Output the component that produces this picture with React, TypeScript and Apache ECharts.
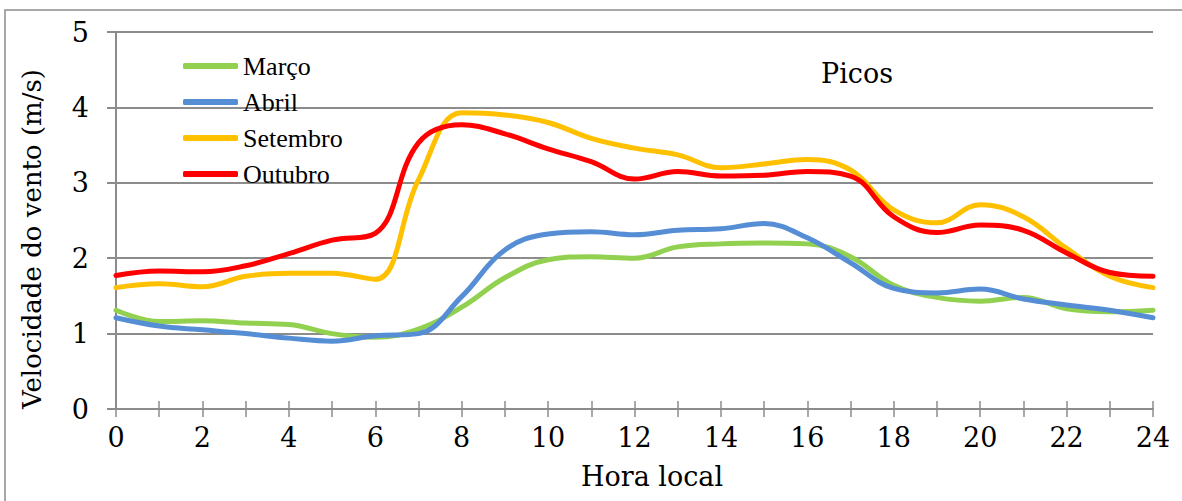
import React, { useEffect, useRef } from "react";
import * as echarts from "echarts";

const hours = [0, 1, 2, 3, 4, 5, 6, 7, 8, 9, 10, 11, 12, 13, 14, 15, 16, 17, 18, 19, 20, 21, 22, 23, 24];
const marco = [1.31, 1.16, 1.17, 1.14, 1.12, 1.0, 0.95, 1.06, 1.35, 1.74, 1.98, 2.02, 2.0, 2.15, 2.19, 2.2, 2.19, 2.02, 1.64, 1.48, 1.43, 1.48, 1.33, 1.29, 1.31];
const abril = [1.21, 1.1, 1.05, 1.0, 0.94, 0.9, 0.97, 1.0, 1.49, 2.11, 2.32, 2.35, 2.31, 2.37, 2.39, 2.46, 2.27, 1.94, 1.6, 1.54, 1.59, 1.46, 1.38, 1.31, 1.21];
const setembro = [1.61, 1.66, 1.62, 1.76, 1.8, 1.8, 1.72, 3.04, 3.93, 3.9, 3.8, 3.59, 3.46, 3.37, 3.2, 3.25, 3.31, 3.17, 2.64, 2.47, 2.71, 2.55, 2.13, 1.76, 1.61];
const outubro = [1.77, 1.83, 1.82, 1.9, 2.06, 2.24, 2.33, 3.53, 3.77, 3.65, 3.45, 3.28, 3.05, 3.15, 3.09, 3.1, 3.15, 3.09, 2.55, 2.34, 2.44, 2.37, 2.07, 1.81, 1.76];

const seriesNames = ["Março", "Abril", "Setembro", "Outubro"];
const seriesData = [marco, abril, setembro, outubro];
const seriesColors = ["#92D050", "#558ED5", "#FFC000", "#FF0000"];

const FONT = "Liberation Serif";
const SERIF = "DejaVu Serif";
const GRAY = "#8c8c8c";

export default function App() {
  const ref = useRef<HTMLDivElement>(null);

  useEffect(() => {
    document.body.style.margin = "0";
    if (!ref.current) return;
    const chart = echarts.init(ref.current, undefined, { renderer: "svg" });
    const xCommon = {
      type: "value" as const,
      min: 0,
      max: 24,
      interval: 1,
      position: "bottom" as const,
      splitLine: { show: false },
    };
    chart.setOption({
      animation: false,
      backgroundColor: "#ffffff",
      grid: { left: 116, right: 29, top: 32, bottom: 92, containLabel: false },
      legend: {
        orient: "vertical",
        left: 183,
        top: 53,
        padding: 0,
        itemGap: 10,
        itemWidth: 55,
        itemHeight: 6,
        icon: "roundRect",
        data: seriesNames,
        textStyle: { fontFamily: FONT, fontSize: 26, color: "#000", lineHeight: 26, padding: [0, 0, 0, 0] },
      },
      xAxis: [
        {
          ...xCommon,
          axisLine: { show: true, lineStyle: { color: GRAY, width: 2 } },
          axisTick: { show: true, inside: false, length: 8, lineStyle: { color: GRAY, width: 1.5 } },
          axisLabel: {
            margin: 15,
            fontFamily: SERIF,
            fontSize: 27,
            color: "#000",
            formatter: (v: number) => (v % 2 === 0 ? String(v) : ""),
          },
        },
        {
          ...xCommon,
          axisLine: { show: false },
          axisTick: { show: true, inside: true, length: 8, lineStyle: { color: GRAY, width: 1.5 } },
          axisLabel: { show: false },
        },
      ],
      yAxis: {
        type: "value",
        min: 0,
        max: 5,
        interval: 1,
        axisLine: { show: true, lineStyle: { color: GRAY, width: 2 } },
        axisTick: { show: true, inside: false, length: 9, lineStyle: { color: GRAY, width: 2 } },
        splitLine: { show: true, lineStyle: { color: GRAY, width: 2 } },
        axisLabel: { margin: 27, fontFamily: SERIF, fontSize: 27, color: "#000" },
      },
      series: seriesNames.map((name, i) => ({
        name,
        type: "line",
        xAxisIndex: 0,
        smooth: 0.4,
        symbol: "none",
        showSymbol: false,
        color: seriesColors[i],
        lineStyle: { width: 5, color: seriesColors[i], cap: "round", join: "round" },
        data: hours.map((h, j) => [h, seriesData[i][j]]),
      })),
      graphic: [
        {
          type: "rect",
          silent: true,
          shape: { x: 5, y: 10, width: 1300, height: 700 },
          style: { fill: "none", stroke: GRAY, lineWidth: 1.5 },
          z: -10,
        },
        {
          type: "text",
          x: 857,
          y: 73,
          style: { text: "Picos", fontFamily: SERIF, fontSize: 27, fill: "#000", align: "center", verticalAlign: "middle" },
        },
        {
          type: "text",
          x: 652,
          y: 476,
          style: { text: "Hora local", fontFamily: SERIF, fontSize: 27, fill: "#000", align: "center", verticalAlign: "middle" },
        },
        {
          type: "text",
          x: 32,
          y: 239,
          rotation: Math.PI / 2,
          style: {
            text: "Velocidade do vento (m/s)",
            fontFamily: SERIF,
            fontSize: 26,
            fill: "#000",
            align: "center",
            verticalAlign: "middle",
          },
        },
      ],
    });
    return () => chart.dispose();
  }, []);

  return <div ref={ref} style={{ width: 1182, height: 501 }} />;
}
